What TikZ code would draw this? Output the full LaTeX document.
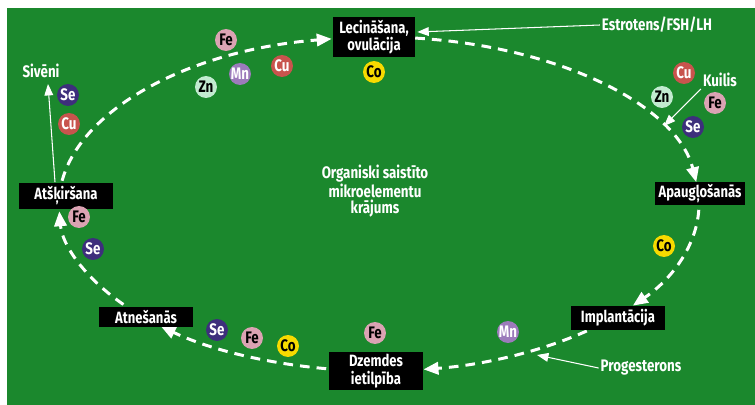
\documentclass[tikz,border=0pt]{standalone}
\usepackage{fontspec}
\setmainfont{Fira Sans}[FakeStretch=0.8]
\usetikzlibrary{arrows.meta,calc}

\definecolor{bggreen}{RGB}{27,136,45}
\definecolor{elfe}{RGB}{219,163,179}
\definecolor{elcu}{RGB}{200,84,77}
\definecolor{else}{RGB}{61,47,124}
\definecolor{elzn}{RGB}{194,235,208}
\definecolor{elmn}{RGB}{156,123,187}
\definecolor{elco}{RGB}{247,218,0}

\tikzstyle{stage} = [fill=black, text=white, align=center, inner sep=1pt,
  font=\fontsize{9.3}{10}\selectfont\bfseries, minimum width=1.9cm]
\tikzstyle{lbl} = [text=white, inner sep=1pt, align=center,
  font=\fontsize{9.5}{10}\selectfont\bfseries]
\tikzstyle{cyc} = [draw=white, line width=1.7pt, dash pattern=on 5.5pt off 4pt,
  -{Triangle[length=8.5pt,width=7pt]}]
\tikzstyle{pointer} = [draw=white, line width=0.6pt,
  -{Triangle[length=6.5pt,width=5pt]}]
\tikzstyle{el} = [circle, inner sep=0pt, minimum size=0.44cm,
  font=\fontsize{9.5}{10}\selectfont\bfseries]
\tikzstyle{fe} = [el, fill=elfe, text=black]
\tikzstyle{cu} = [el, fill=elcu, text=white]
\tikzstyle{se} = [el, fill=else, text=white]
\tikzstyle{zn} = [el, fill=elzn, text=black]
\tikzstyle{mn} = [el, fill=elmn, text=white]
\tikzstyle{co} = [el, fill=elco, text=black]

\begin{document}
\begin{tikzpicture}[x=0.02cm, y=-0.02cm]
  \useasboundingbox (0,0) rectangle (755,405);
  \fill[bggreen] (7,8) rectangle (755,405);

  % cycle
  \coordinate (c) at (379,204);
  \draw[cyc] (c) ++(188:320 and 167) arc[start angle=188, end angle=261.5, x radius=320, y radius=167];
  \draw[cyc] (c) ++(276.5:320 and 167) arc[start angle=276.5, end angle=352.5, x radius=320, y radius=167];
  \draw[cyc] (c) ++(2:320 and 167) arc[start angle=2, end angle=37.5, x radius=320, y radius=167];
  \draw[cyc] (c) ++(49.5:320 and 167) arc[start angle=49.5, end angle=82, x radius=320, y radius=167];
  \draw[cyc] (c) ++(99.5:320 and 167) arc[start angle=99.5, end angle=133, x radius=320, y radius=167];
  \draw[cyc] (c) ++(143:320 and 167) arc[start angle=143, end angle=177.5, x radius=320, y radius=167];

  % stages
  \node[stage, minimum width=1.64cm, minimum height=0.8cm] (lec) at (374,37) {Lecināšana,\\ovulācija};
  \node[stage, minimum width=1.82cm, minimum height=0.46cm] (apa) at (700,194) {Apaugļošanās};
  \node[stage, minimum height=0.48cm] (imp) at (618,318) {Implantācija};
  \node[stage, minimum height=0.78cm] (dze) at (376,371) {Dzemdes\\ietilpība};
  \node[stage, minimum height=0.4cm] (atn) at (146,317) {Atnešanās};
  \node[stage, minimum height=0.54cm] (ats) at (66,196) {Atšķiršana};

  % center
  \node[lbl, font=\fontsize{9.5}{9}\selectfont\bfseries] (store) at (375,191)
    {Organiski saistīto\\mikroelementu\\krājums};

  % hormones and others
  \node[lbl] (siv) at (41,71) {Sivēni};
  \node[lbl] (estr) at (657,25) {Estrotens/FSH/LH};
  \node[lbl] (kui) at (720,80) {Kuilis};
  \node[lbl] (pro) at (641,368) {Progesterons};
  \coordinate (kuiend) at (664,126);
  \coordinate (proend) at (537,355);

  \draw[pointer] ($(ats.north)+(-11,0)$) -- ($(siv.south)+(7,4)$);
  \draw[pointer] (estr.west) -- ($(lec.east)+(2,-5)$);
  \draw[pointer] (kui.south west) -- (kuiend);
  \draw[pointer] (pro.west) -- (proend);

  % trace elements
  \foreach \st/\txt/\x/\y [count=\i] in {
    fe/Fe/226/40, mn/Mn/240/74, cu/Cu/282/66, zn/Zn/206/87, co/Co/374/72,
    se/Se/68/95, cu/Cu/69/124,
    cu/Cu/684/73, zn/Zn/662/97, fe/Fe/715/103, se/Se/693/127,
    fe/Fe/79/217, se/Se/93/249, co/Co/664/246,
    se/Se/217/330, fe/Fe/252/338, co/Co/288/346, fe/Fe/375/333, mn/Mn/508/332} {
    \node[\st] (el\i) at (\x,\y) {\txt};
  }
\end{tikzpicture}
\end{document}
